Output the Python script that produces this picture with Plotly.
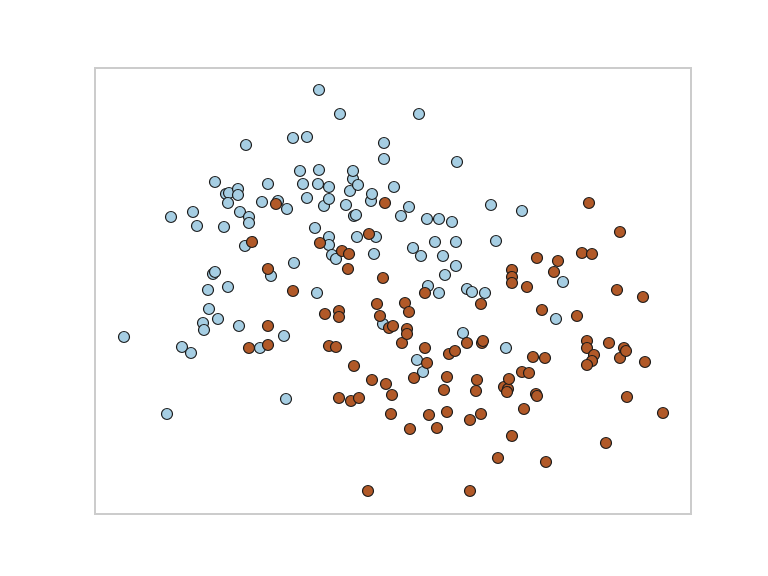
import plotly.graph_objects as go

# Class 0 (light blue) points: x, y (y grows downward, picture units)
x0 = [124,167,171,182,191,193,197,203,204,208,209,213,215,215,218,224,226,229,228,228,238,238,239,240,245,246,249,249,260,262,268,271,278,284,286,287,293,294,303,300,307,307,315,317,318,319,319,324,329,329,329,329,332,336,340,346,353,350,353,354,356,357,358,371,372,374,376,383,384,384,394,401,409,413,417,419,421,423,427,428,435,439,439,443,445,452,456,456,457,463,467,472,485,491,496,506,522,556,563]
y0 = [337,414,217,347,353,212,226,323,330,290,309,274,272,182,319,227,194,193,203,287,189,195,326,212,246,145,217,223,348,202,184,276,201,336,399,209,138,263,184,171,137,198,228,293,184,90,170,206,187,199,237,245,255,259,114,205,179,191,171,216,215,237,185,201,194,254,237,324,143,159,187,216,207,248,360,114,256,372,219,286,242,219,293,256,275,222,242,266,162,333,289,292,293,205,241,348,211,319,282]

# Class 1 (brown) points
x1 = [249,252,268,268,268,276,293,320,325,329,336,339,339,339,342,348,349,351,354,359,368,369,372,377,380,383,385,386,389,391,392,393,402,405,407,407,409,410,414,425,425,427,429,437,444,447,447,449,455,467,470,470,476,477,481,481,482,483,498,504,508,507,509,512,512,512,512,522,524,527,529,533,536,537,537,542,545,546,554,558,577,582,587,587,589,592,594,592,587,606,609,617,620,620,624,626,627,643,645,663]
y1 = [348,242,269,326,345,204,291,243,314,346,347,398,311,317,251,269,254,401,366,398,491,234,380,304,316,278,203,384,328,414,395,326,343,303,329,334,312,429,378,293,348,363,415,428,390,377,412,354,351,343,420,491,391,380,304,414,343,341,458,387,389,392,379,270,277,283,436,372,409,287,373,357,394,396,258,310,358,462,272,261,316,253,341,348,203,254,355,361,365,443,343,290,232,358,348,351,397,297,362,413]

xs = x0 + x1
ys = y0 + y1
colors = ["#a6cee3"] * len(x0) + ["#b15928"] * len(x1)

fig = go.Figure()
fig.add_trace(go.Scatter(
    x=xs, y=ys, mode="markers",
    marker=dict(size=11, color=colors, line=dict(color="#1a1a1a", width=1.2)),
    showlegend=False, hoverinfo="skip",
))

fig.update_layout(
    width=760, height=568,
    margin=dict(l=88, r=78, t=61, b=63),
    paper_bgcolor="white", plot_bgcolor="white",
    xaxis=dict(range=[96, 690], showgrid=False, zeroline=False, showticklabels=False,
               ticks="", showline=True, mirror=True, linecolor="#cccccc", linewidth=1.5),
    yaxis=dict(range=[513, 69], showgrid=False, zeroline=False, showticklabels=False,
               ticks="", showline=True, mirror=True, linecolor="#cccccc", linewidth=1.5),
)

fig.write_html("out.html")
